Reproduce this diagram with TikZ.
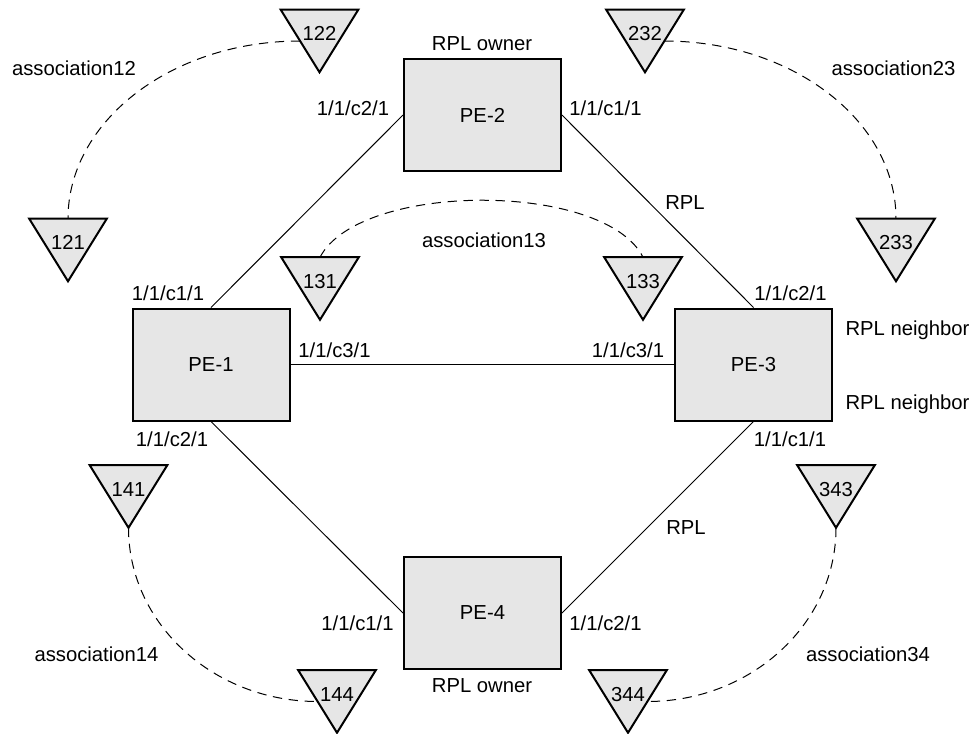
\documentclass[tikz,border=0pt]{standalone}
\usepackage{fontspec}
\setmainfont{Liberation Sans}
\usetikzlibrary{calc}
\definecolor{boxfill}{RGB}{230,230,230}
\newcommand\trinode[4]{%
  \node[tribox] (#1) at (#2,#3) {};
  \draw[tri] (#1.north west) -- (#1.north east) -- (#1.south) -- cycle;
  \node[trinum] (#1-num) at ([yshift=5.6pt]#1.center) {#4};
}
\begin{document}
\begin{tikzpicture}[x=0.75pt,y=-0.75pt,
  font=\fontsize{15.2}{18}\selectfont,
  pebox/.style={draw, line width=1.5pt, fill=boxfill, minimum width=117.75pt, minimum height=84pt, inner sep=0pt},
  tribox/.style={minimum width=57.75pt, minimum height=46.5pt, inner sep=0pt},
  tri/.style={draw, line width=1.5pt, fill=boxfill, line join=miter},
  trinum/.style={inner sep=0pt},
  lbl/.style={inner sep=0pt, text height=10.9pt, text depth=0pt},
  link/.style={line width=0.75pt},
  assoc/.style={line width=0.75pt, dash pattern=on 7pt off 5pt}]
\useasboundingbox (0,0) rectangle (972,733);

% PE boxes
\node[pebox] (pe1) at (211,364.5) {PE-1};
\node[pebox] (pe2) at (482.5,115) {PE-2};
\node[pebox] (pe3) at (753.5,364.5) {PE-3};
\node[pebox] (pe4) at (482.5,613) {PE-4};

% links
\draw[link] (pe2.west) -- (pe1.north);
\draw[link] (pe2.east) -- (pe3.north);
\draw[link] (pe1.east) -- (pe3.west);
\draw[link] (pe1.south) -- (pe4.west);
\draw[link] (pe3.south) -- (pe4.east);

% triangles
\trinode{t122}{319.5}{41}{122}
\trinode{t121}{68}{250}{121}
\trinode{t131}{320}{288.5}{131}
\trinode{t133}{643}{288.5}{133}
\trinode{t232}{645}{41}{232}
\trinode{t233}{896}{250}{233}
\trinode{t141}{128.5}{496.5}{141}
\trinode{t144}{337}{701.5}{144}
\trinode{t343}{836}{496.5}{343}
\trinode{t344}{628}{701.5}{344}

% associations
\draw[assoc] ($(t122.north west)!0.5!(t122.south)$) .. controls +(-128,0) and +(0,-98) .. (t121.north);
\draw[assoc] ($(t232.north east)!0.5!(t232.south)$) .. controls +(128,0) and +(0,-98) .. (t233.north);
\draw[assoc] (t131.north) .. controls +(40,-76) and +(-38,-76) .. (t133.north);
\draw[assoc] (t141.south) .. controls +(0,96) and +(-104,0) .. ($(t144.north west)!0.5!(t144.south)$);
\draw[assoc] (t343.south) .. controls +(0,96) and +(104,0) .. ($(t344.north east)!0.5!(t344.south)$);

% labels
\node[lbl] (lown2) at (482,43) {RPL owner};
\node[lbl] (lp2w) at (353,108) {1/1/c2/1};
\node[lbl] (lp2e) at (605.5,108) {1/1/c1/1};
\node[lbl] (la12) at (74,68) {association12};
\node[lbl] (la23) at (893.5,68) {association23};
\node[lbl] (lrpl1) at (685,202) {RPL};
\node[lbl] (la13) at (484,240) {association13};
\node[lbl] (lp1n) at (168,293) {1/1/c1/1};
\node[lbl] (lp1e) at (334.5,350) {1/1/c3/1};
\node[lbl] (lp3w) at (628,350) {1/1/c3/1};
\node[lbl] (lp1s) at (172,439) {1/1/c2/1};
\node[lbl] (lp3n) at (790.5,293) {1/1/c2/1};
\node[lbl] (lnb1) at (907.5,328) {RPL neighbor};
\node[lbl] (lnb2) at (907.5,402) {RPL neighbor};
\node[lbl] (lp3s) at (790,439) {1/1/c1/1};
\node[lbl] (lrpl2) at (686,527) {RPL};
\node[lbl] (lp4w) at (357.5,623) {1/1/c1/1};
\node[lbl] (lp4e) at (605.5,623) {1/1/c2/1};
\node[lbl] (lown4) at (482,685) {RPL owner};
\node[lbl] (la14) at (96.5,654) {association14};
\node[lbl] (la34) at (868,654) {association34};
\end{tikzpicture}
\end{document}
